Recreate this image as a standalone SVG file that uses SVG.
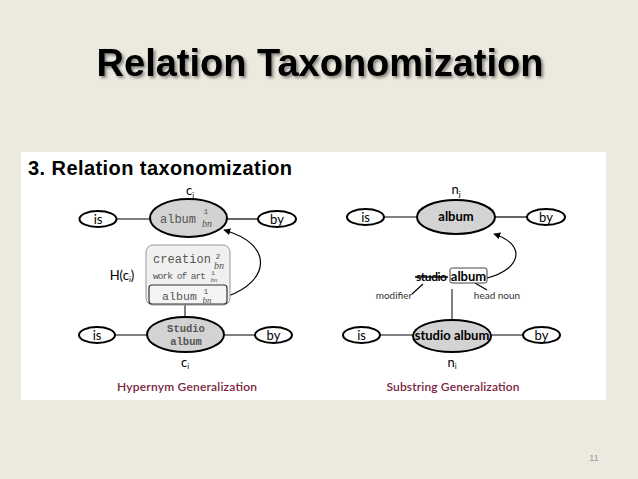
<svg xmlns="http://www.w3.org/2000/svg" width="638" height="479" viewBox="0 0 638 479">
<defs>
<filter id="sh" x="-10%" y="-30%" width="120%" height="160%">
<feGaussianBlur in="SourceAlpha" stdDeviation="1.5"/>
<feOffset dx="1.5" dy="2" result="b"/>
<feComponentTransfer><feFuncA type="linear" slope="0.45"/></feComponentTransfer>
<feMerge><feMergeNode/><feMergeNode in="SourceGraphic"/></feMerge>
</filter>
<marker id="ah" viewBox="0 0 10 10" refX="9" refY="5" markerWidth="7" markerHeight="7" orient="auto" markerUnits="userSpaceOnUse">
<path d="M0,0 L10,5 L0,10 z" fill="#000"/>
</marker>
<style>
.lbl{font-family:Lato,"Liberation Sans",sans-serif;font-size:13px;fill:#000;text-anchor:middle}
.oval{fill:#fff;stroke:#000;stroke-width:2}
.goval{fill:#d3d3d3;stroke:#000;stroke-width:2}
.mono{font-family:"Liberation Mono","DejaVu Sans Mono",monospace;fill:#555}
.it{font-family:"Liberation Serif",serif;font-style:italic;fill:#555}
.cap{font-family:Lato,"Liberation Sans",sans-serif;font-size:12px;font-weight:600;fill:#7a2440;text-anchor:middle}
.ann{font-family:Lato,"Liberation Sans",sans-serif;font-size:10px;fill:#333;text-anchor:middle}
.ln{stroke:#000;stroke-width:1.2;fill:none}
.lng{stroke:#555;stroke-width:1.5;fill:none}
</style>
</defs>
<rect width="638" height="479" fill="#ece9df"/>
<text x="320" y="76" font-family="Liberation Sans,Arial,sans-serif" font-weight="bold" font-size="38" text-anchor="middle" filter="url(#sh)">Relation Taxonomization</text>
<rect x="21" y="152" width="585" height="248" fill="#fff"/>
<text x="28" y="175" font-family="Liberation Sans,Arial,sans-serif" font-weight="bold" font-size="20" textLength="264">3. Relation taxonomization</text>

<g id="connectors">
<line class="ln" x1="117" y1="219" x2="150" y2="219"/>
<line class="ln" x1="227" y1="219" x2="258" y2="219"/>
<line class="lng" x1="115" y1="335" x2="147" y2="335"/>
<line class="lng" x1="224" y1="335" x2="255" y2="335"/>
<line class="lng" x1="185" y1="305" x2="185" y2="317"/>
<path class="ln" d="M228,296 C268,282 276,245 224,230" marker-end="url(#ah)"/>
<line class="ln" x1="384" y1="217" x2="417" y2="217"/>
<line class="ln" x1="495" y1="217" x2="527" y2="217"/>
<line class="lng" x1="380" y1="335" x2="413" y2="335"/>
<line class="lng" x1="491" y1="335" x2="523" y2="335"/>
<line class="lng" x1="452" y1="289" x2="452" y2="320"/>
<path class="ln" d="M487,278 C520,270 528,245 494,234" marker-end="url(#ah)"/>
<line class="ln" x1="423" y1="284" x2="412" y2="294"/>
<line class="ln" x1="475" y1="283" x2="487" y2="290"/>
</g>

<g id="left-is-top"><ellipse class="oval" cx="98" cy="219" rx="18.5" ry="8"/><text class="lbl" x="98" y="223.5">is</text></g>
<g id="left-cj">
<ellipse class="goval" cx="188.5" cy="218" rx="38.5" ry="19"/>
<text class="mono" x="160" y="223" font-size="12" fill="#3a3a3a">album</text>
<text class="mono" x="206" y="214" font-size="8" text-anchor="middle" fill="#3a3a3a">1</text>
<text class="it" x="207" y="227" font-size="10" text-anchor="middle" fill="#3a3a3a">bn</text>
<text class="lbl" x="190" y="195">c<tspan font-size="8" dy="3">j</tspan></text>
</g>
<g id="left-by-top"><ellipse class="oval" cx="277" cy="219" rx="19" ry="8"/><text class="lbl" x="277" y="223.5">by</text></g>

<g id="left-hci">
<text class="lbl" x="122" y="280">H(c<tspan font-size="8" dy="2">i</tspan><tspan dy="-2">)</tspan></text>
<rect x="146" y="245" width="84" height="60" rx="7" fill="#f0f0f0" stroke="#999" stroke-width="1"/>
<text class="mono" x="153" y="263" font-size="12" textLength="58">creation</text>
<text class="mono" x="218" y="259" font-size="8" text-anchor="middle">2</text>
<text class="it" x="219" y="269" font-size="10" text-anchor="middle">bn</text>
<text class="mono" x="153" y="279" font-size="9.5" textLength="53">work of art</text>
<text class="mono" x="213" y="275" font-size="6" text-anchor="middle">1</text>
<text class="it" x="214" y="282" font-size="7" text-anchor="middle">bn</text>
<rect x="149" y="285" width="78" height="19" rx="3" fill="#f4f4f4" stroke="#333" stroke-width="1.2"/>
<text class="mono" x="162" y="300" font-size="11.5" textLength="35">album</text>
<text class="mono" x="206" y="294" font-size="8" text-anchor="middle">1</text>
<text class="it" x="207" y="303" font-size="9" text-anchor="middle">bn</text>
</g>

<g id="left-is-bot"><ellipse class="oval" cx="97" cy="335" rx="18" ry="8"/><text class="lbl" x="97" y="339.5">is</text></g>
<g id="left-ci">
<ellipse class="goval" cx="185.5" cy="334.5" rx="38.5" ry="17.5"/>
<text class="mono" x="186" y="332" font-size="10.5" font-weight="bold" fill="#222" text-anchor="middle">Studio</text>
<text class="mono" x="186" y="345" font-size="10.5" font-weight="bold" fill="#222" text-anchor="middle">album</text>
<text class="lbl" x="185" y="367">c<tspan font-size="8" dy="2">i</tspan></text>
</g>
<g id="left-by-bot"><ellipse class="oval" cx="273.5" cy="335" rx="18.5" ry="8"/><text class="lbl" x="273.5" y="339.5">by</text></g>
<text class="cap" x="187" y="391" textLength="140">Hypernym Generalization</text>

<g id="right-is-top"><ellipse class="oval" cx="365.5" cy="217" rx="18.5" ry="8"/><text class="lbl" x="365.5" y="221.5">is</text></g>
<g id="right-nj">
<ellipse class="goval" cx="456" cy="217" rx="39" ry="17"/>
<text class="lbl" x="456" y="221" font-size="12" font-weight="bold">album</text>
<text class="lbl" x="456" y="194">n<tspan font-size="8" dy="3">j</tspan></text>
</g>
<g id="right-by-top"><ellipse class="oval" cx="546" cy="217" rx="19" ry="8"/><text class="lbl" x="546" y="221.5">by</text></g>

<g id="right-phrase">
<text x="416" y="281" font-family="Lato,Liberation Sans,sans-serif" font-size="12" font-weight="bold" textLength="31">studio</text>
<line x1="415" y1="277" x2="448" y2="277" stroke="#000" stroke-width="1.3"/>
<rect x="450" y="268" width="37" height="15" rx="2" fill="#fff" stroke="#444" stroke-width="1"/>
<text class="lbl" x="468.5" y="281" font-size="12" font-weight="bold">album</text>
<text class="ann" x="394" y="299">modifier</text>
<text class="ann" x="497" y="299">head noun</text>
</g>

<g id="right-is-bot"><ellipse class="oval" cx="361.5" cy="335" rx="18.5" ry="8"/><text class="lbl" x="361.5" y="339.5">is</text></g>
<g id="right-ni">
<ellipse class="goval" cx="452" cy="336" rx="39" ry="16"/>
<text class="lbl" x="452" y="340" font-size="12" font-weight="bold">studio album</text>
<text class="lbl" x="452" y="367">n<tspan font-size="8" dy="2">i</tspan></text>
</g>
<g id="right-by-bot"><ellipse class="oval" cx="541.5" cy="335" rx="18.5" ry="8"/><text class="lbl" x="541.5" y="339.5">by</text></g>
<text class="cap" x="453" y="391" textLength="133">Substring Generalization</text>

<text x="594" y="461" font-family="Liberation Sans,Arial,sans-serif" font-size="9" fill="#999" text-anchor="middle">11</text>
</svg>
